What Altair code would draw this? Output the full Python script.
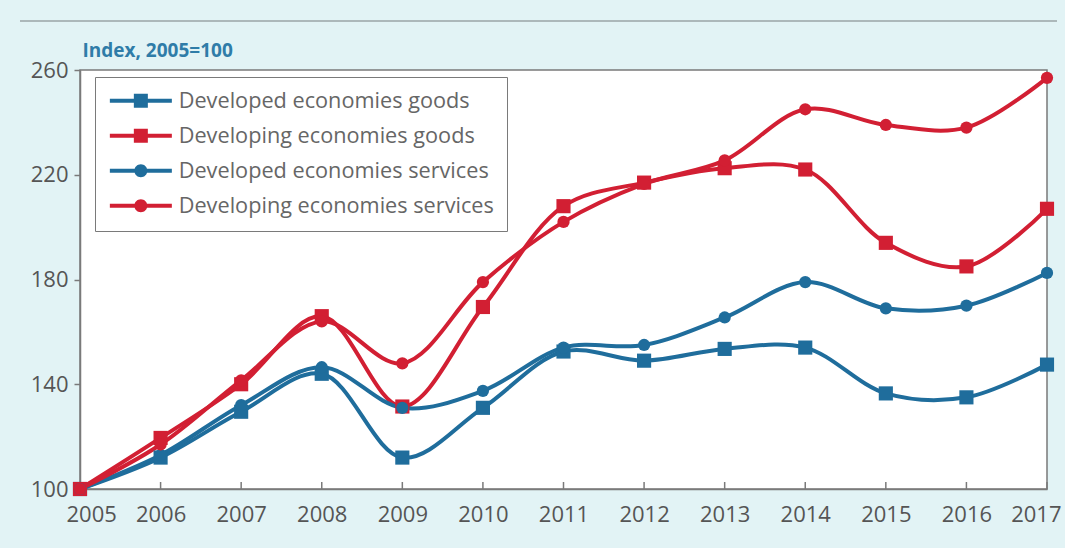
import altair as alt
import pandas as pd

years = [2005, 2006, 2007, 2008, 2009, 2010, 2011, 2012, 2013, 2014, 2015, 2016, 2017]
series_names = [
    "Developed economies goods",
    "Developing economies goods",
    "Developed economies services",
    "Developing economies services",
]
developed_goods = [100, 112, 129.5, 144, 112, 131, 152.5, 149, 153.5, 154, 136.5, 135, 147.5]
developing_goods = [100, 119.5, 140, 166, 131.5, 169.5, 208, 217, 222.5, 222, 194, 185, 207]
developed_services = [100, 113, 132, 146.5, 131, 137.5, 154, 155, 165.5, 179, 169, 170, 182.5]
developing_services = [100, 117, 141.5, 164, 148, 179, 202, 216.5, 225.5, 245, 239, 238, 257]
y_ticks = [100, 140, 180, 220, 260]

BLUE = "#1f6d9c"
RED = "#d21f33"
colors = [BLUE, RED, BLUE, RED]
marker_shapes = ["square", "square", "circle", "circle"]
sq = "M-3.1,-0.2H-0.7V-0.7H0.7V-0.2H3.1V0.2H0.7V0.7H-0.7V0.2H-3.1Z"
ci = "M-3.1,-0.2H3.1V0.2H-3.1Z M0.65,0A0.65,0.65,0,1,1,-0.65,0A0.65,0.65,0,1,1,0.65,0Z"
legend_shapes = [sq, sq, ci, ci]

rows = []
for name, vals in zip(series_names, [developed_goods, developing_goods, developed_services, developing_services]):
    for yr, v in zip(years, vals):
        rows.append({"year": yr, "value": v, "series": name})
df = pd.DataFrame(rows)
df_years = pd.DataFrame({"year": years})

W, H = 967, 419

x_bottom = alt.X(
    "year:Q",
    scale=alt.Scale(domain=[2005, 2017], nice=False, zero=False),
    axis=alt.Axis(values=years, format="d", ticks=False, domain=True, domainColor="#7a7a7a",
                  domainWidth=1.5, labelFont="Open Sans", labelFontSize=22, labelColor="#555555",
                  labelPadding=15, labelFlush=True, labelFlushOffset=14, labelOverlap=False,
                  labelBound=False, grid=False, title=None),
)
y_enc = alt.Y(
    "value:Q",
    scale=alt.Scale(domain=[100, 260], nice=False, zero=False),
    axis=alt.Axis(values=y_ticks, tickSize=6, tickColor="#7a7a7a", tickWidth=1.5, domainColor="#7a7a7a",
                  domainWidth=1.5, labelFont="Open Sans", labelFontSize=22, labelColor="#555555",
                  labelPadding=6, grid=False, labelFlush=False,
                  title="Index, 2005=100", titleAngle=0, titleAlign="left", titleX=2, titleY=-14,
                  titleBaseline="alphabetic", titleFont="Open Sans", titleFontSize=19,
                  titleFontWeight="bold", titleColor="#2f7ca8"),
)
color_scale = alt.Scale(domain=series_names, range=colors)

lines = alt.Chart(df).mark_line(strokeWidth=4, interpolate="catmull-rom").encode(
    x=x_bottom,
    y=y_enc,
    color=alt.Color("series:N", scale=color_scale, legend=None),
    detail="series:N",
)

points = alt.Chart(df).mark_point(filled=True, opacity=1, strokeWidth=0).encode(
    x=alt.X("year:Q"),
    y=alt.Y("value:Q"),
    color=alt.Color("series:N", scale=color_scale, legend=None),
    shape=alt.Shape("series:N", scale=alt.Scale(domain=series_names, range=marker_shapes), legend=None),
    size=alt.condition("indexof(datum.series, 'goods') >= 0", alt.value(200), alt.value(150)),
)

# inward x-axis ticks
tick_layer = alt.Chart(df_years).mark_rule(color="#7a7a7a", strokeWidth=1.5).encode(
    x=alt.X("year:Q"),
    y=alt.value(H - 7),
    y2=alt.value(H),
)

leg = alt.Legend(
    orient="none", legendX=15, legendY=7, title=None, padding=13,
    fillColor="white", strokeColor="#7a7a7a",
    symbolSize=400, symbolOffset=22, labelOffset=27, rowPadding=12,
    symbolStrokeWidth=0, symbolOpacity=1,
    labelFont="Open Sans", labelFontSize=21.7, labelColor="#666666", labelLimit=0,
)
legend_layer = alt.Chart(df).transform_filter("datum.value < 0").mark_point(
    filled=True, opacity=1, strokeWidth=0
).encode(
    x=alt.X("year:Q"),
    y=alt.Y("value:Q"),
    color=alt.Color("series:N", scale=alt.Scale(domain=series_names, range=colors), legend=leg),
    shape=alt.Shape("series:N", scale=alt.Scale(domain=series_names, range=legend_shapes), legend=leg),
)

top_line = alt.Chart(pd.DataFrame({"k": [0]})).mark_rule(color="#9aa4a6", strokeWidth=1.5).encode(
    x=alt.value(-60), x2=alt.value(977), y=alt.value(-49)
)

chart = alt.layer(tick_layer, lines, points, legend_layer, top_line).resolve_scale(
    color="independent", shape="independent"
).properties(
    width=W, height=H,
    autosize=alt.AutoSizeParams(type="none"),
    padding={"left": 80, "top": 70, "right": 18, "bottom": 59},
    background="#e2f3f5",
).configure_view(
    fill="white", stroke="#7a7a7a", strokeWidth=1.5
)

chart.save("out.html", embed_options={"renderer": "svg", "actions": False})
